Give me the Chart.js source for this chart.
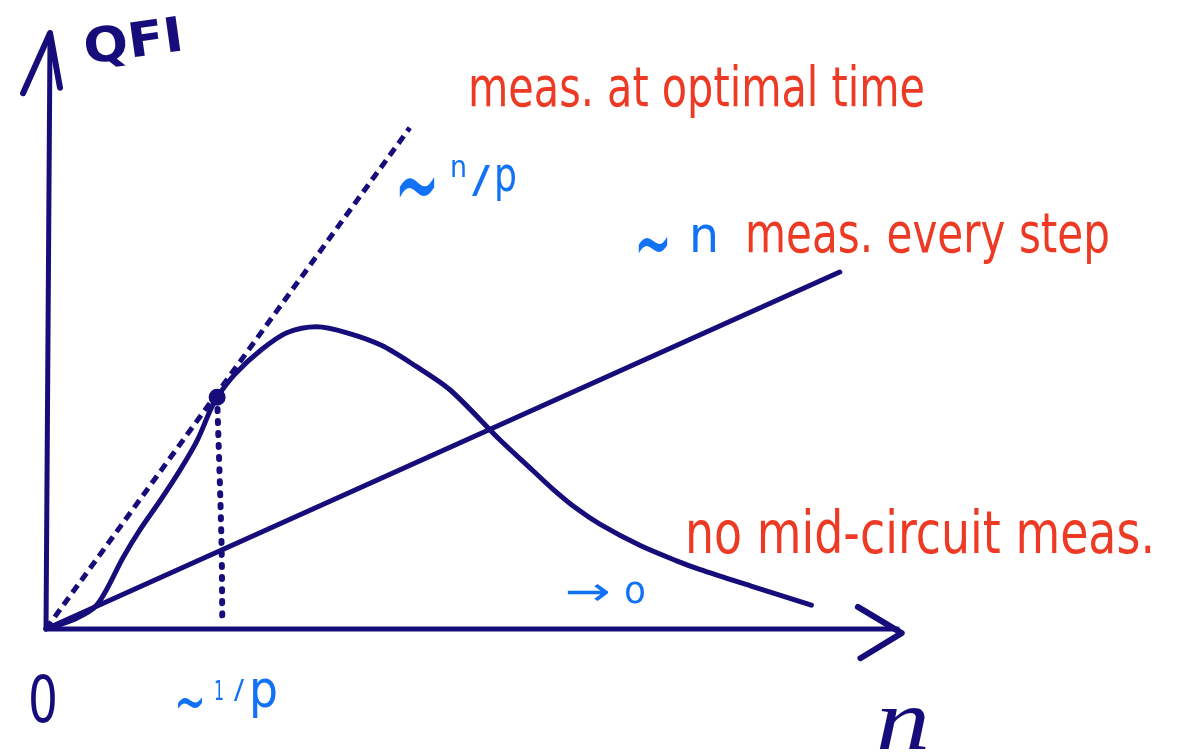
<!DOCTYPE html>
<html>
<head>
<meta charset="utf-8">
<title>QFI vs n</title>
<script src="https://cdn.jsdelivr.net/npm/chart.js@4.4.1/dist/chart.umd.min.js"></script>
<style>
  html, body { margin: 0; padding: 0; background: #ffffff; }
  #wrap { width: 1180px; height: 753px; position: relative; }
</style>
</head>
<body>
<div id="wrap"><canvas id="c" width="1180" height="753"></canvas></div>
<script>
// ---- data (n on the horizontal axis, QFI on the vertical axis) ----
const nNoMid      = [0, 0.31, 0.59, 0.90, 1.09, 1.33, 1.56, 1.76, 1.91, 1.99, 2.2, 2.5, 2.8, 3.15, 3.5, 3.9, 4.3, 4.7, 5.28, 5.66, 5.90, 6.17, 6.44, 6.91, 7.34, 7.60, 8.20, 8.90];
const qfiNoMid    = [0, 0.15, 0.40, 1.21, 1.66, 2.16, 2.67, 3.17, 3.67, 3.89, 4.28, 4.68, 4.97, 5.07, 4.97, 4.76, 4.41, 4.01, 3.17, 2.66, 2.34, 2.02, 1.76, 1.40, 1.14, 1.00, 0.72, 0.40];
const nEveryStep  = [0, 9.23];
const qfiEveryStep= [0, 5.99];
const nOptimal    = [0, 4.23];
const qfiOptimal  = [0, 8.41];
const nStar       = [1.99];
const qfiStar     = [3.89];
const nGuide      = [1.99, 2.04, 2.05];
const qfiGuide    = [3.89, 1.5, 0.12];
// hand-drawn axes and arrowheads
const nAxisY      = [0, 0.047];
const qAxisY      = [0, 10];
const nArrowY     = [-0.267, 0.047, 0.163];
const qArrowY     = [8.99, 10, 9.08];
const nAxisX      = [0, 9.9];
const qAxisX      = [0, 0];
const nArrowX     = [9.44, 9.95, 9.47];
const qArrowX     = [0.37, -0.07, -0.49];
const nRange      = [0, 10];
const qRange      = [0, 10];

const NAVY = 'rgb(22, 12, 122)';
const RED  = 'rgb(236, 58, 36)';
const BLUE = 'rgb(18, 114, 245)';

const pts = (xs, ys) => xs.map((x, i) => ({ x: x, y: ys[i] }));

function lineSet(xs, ys, extra) {
  return Object.assign({
    data: pts(xs, ys),
    showLine: true,
    borderColor: NAVY,
    backgroundColor: NAVY,
    borderWidth: 5,
    pointRadius: 0,
    borderCapStyle: 'round',
    borderJoinStyle: 'round',
    clip: false,
    tension: 0
  }, extra || {});
}

// text drawn into a fixed width box (horizontal squeeze keeps handwriting proportions)
function fitText(ctx, txt, x, baseY, w, font, color, rot, sy) {
  ctx.save();
  ctx.font = font;
  ctx.fillStyle = color;
  ctx.textBaseline = 'alphabetic';
  ctx.textAlign = 'left';
  const m = ctx.measureText(txt).width;
  ctx.translate(x, baseY);
  if (rot) ctx.rotate(rot);
  ctx.scale(w / m, sy || 1);
  ctx.fillText(txt, 0, 0);
  ctx.restore();
}

const labelPlugin = {
  id: 'sketchLabels',
  afterDraw(chart) {
    const c = chart.ctx;
    const F = 'DejaVu Sans, sans-serif';
    // axis titles
    fitText(c, 'QFI', 86, 64, 100, 'bold 48px ' + F, NAVY, -0.14);
    fitText(c, '0', 28, 722, 30, '64px ' + F, NAVY, 0);
    fitText(c, 'n', 876, 749, 54, 'italic 86px "Liberation Serif", serif', NAVY, 0);

    // series labels
    fitText(c, 'meas. at optimal time', 468, 106, 457, '56px ' + F, RED, 0);
    fitText(c, 'meas. every step', 745, 252, 365, '56px ' + F, RED, 0);
    fitText(c, 'no mid-circuit meas.', 685, 553, 470, '58px ' + F, RED, 0);

    // scaling annotations (tilde stretched vertically to a pen-stroke wave)
    fitText(c, '~', 394, 225, 46, '60px ' + F, BLUE, 0, 2.0);
    fitText(c, 'n', 450, 177, 17, '30px ' + F, BLUE, 0);
    fitText(c, '/', 472, 192, 18, '38px ' + F, BLUE, 0);
    fitText(c, 'p', 494, 191, 23, '48px ' + F, BLUE, 0);

    fitText(c, '~', 634, 276, 38, '52px ' + F, BLUE, 0, 1.9);
    fitText(c, 'n', 689, 252, 30, '50px ' + F, BLUE, 0);

    fitText(c, '~', 174, 724, 32, '42px ' + F, BLUE, 0, 1.6);
    fitText(c, '1', 214, 700, 10, '26px ' + F, BLUE, 0);
    fitText(c, '/', 234, 699, 10, '26px ' + F, BLUE, 0);
    fitText(c, 'p', 249, 707, 29, '52px ' + F, BLUE, 0);

    fitText(c, '\u2192', 565, 605, 46, '40px ' + F, BLUE, 0);
    fitText(c, 'o', 624, 603, 22, '38px ' + F, BLUE, 0);
  }
};

new Chart(document.getElementById('c'), {
  type: 'scatter',
  data: {
    datasets: [
      lineSet(nStar, qfiStar, { showLine: false, pointRadius: 6, pointHoverRadius: 6 }),
      lineSet(nNoMid, qfiNoMid, { tension: 0.3 }),
      lineSet(nEveryStep, qfiEveryStep),
      lineSet(nOptimal, qfiOptimal, { borderDash: [9, 6], borderCapStyle: 'butt' }),
      lineSet(nGuide, qfiGuide, { borderWidth: 6, borderDash: [2, 10], tension: 0.3 }),
      lineSet(nAxisY, qAxisY),
      lineSet(nArrowY, qArrowY, { borderWidth: 6 }),
      lineSet(nAxisX, qAxisX),
      lineSet(nArrowX, qArrowX, { borderWidth: 6 })
    ]
  },
  options: {
    responsive: false,
    devicePixelRatio: 1,
    animation: false,
    events: [],
    layout: { padding: { left: 46, top: 33, right: 274, bottom: 124 } },
    scales: {
      x: { type: 'linear', min: nRange[0], max: nRange[1], display: false },
      y: { type: 'linear', min: qRange[0], max: qRange[1], display: false }
    },
    plugins: { legend: { display: false }, tooltip: { enabled: false } }
  },
  plugins: [labelPlugin]
});
</script>
</body>
</html>
